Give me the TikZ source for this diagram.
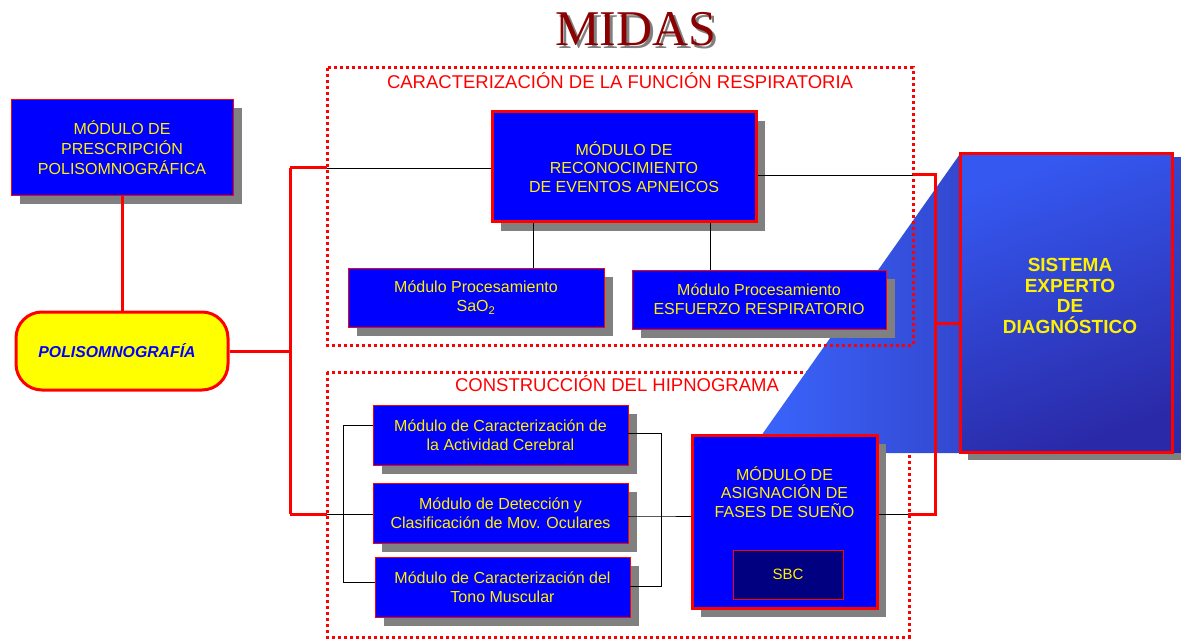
\documentclass[tikz,border=0pt]{standalone}
\usepackage{fontspec}
\setmainfont{Liberation Sans}
\newfontfamily\titlefont{Liberation Serif}
\usetikzlibrary{shadows}
\definecolor{boxblue}{HTML}{0000FF}
\definecolor{shgray}{HTML}{808080}
\definecolor{titlered}{HTML}{8B0000}
\definecolor{panelA}{HTML}{3A66FF}
\definecolor{panelB}{HTML}{3348D0}
\definecolor{expA}{HTML}{3558F0}
\definecolor{expB}{HTML}{2A2AA8}
\definecolor{sbcblue}{HTML}{000080}
\definecolor{polyyellow}{HTML}{FFFF00}
\tikzset{
  shadowed/.style={drop shadow={shadow xshift=9pt, shadow yshift=-9pt, fill=shgray, opacity=1}},
  modbox/.style={draw=red, line width=0.8pt, fill=boxblue, text=yellow, align=center,
    font=\fontsize{16}{18.8}\selectfont, inner sep=0pt, shadowed},
  bigbox/.style={modbox, line width=3pt},
  redline/.style={draw=red, line width=3pt},
  blackline/.style={draw=black, line width=0.9pt},
  dotframe/.style={draw=red, line width=3pt, dash pattern=on 3pt off 3pt},
  frametitle/.style={text=red, font=\fontsize{18.5}{20}\selectfont, inner sep=0pt},
}
\begin{document}
\begin{tikzpicture}[x=1pt, y=-1pt]
\useasboundingbox[fill=white] (0,0) rectangle (1181,639);

% heading, its grey shadow set in the same box
\node[font=\titlefont\fontsize{50}{50}\selectfont, inner sep=0pt] (head) at (636,31)
  {\makebox[0pt][l]{\hspace{3pt}\raisebox{-3pt}{\textcolor{shgray}{MIDAS}}}\textcolor{titlered}{MIDAS}};

% lower frame (partly hidden by the blue panel)
\draw[dotframe] (327,372) rectangle (909,637);
\node[frametitle] (hipno) at (617,384) {CONSTRUCCIÓN DEL HIPNOGRAMA};

% blue perspective panel behind the expert system
\shade[left color=panelA, right color=panelB] (749,453) -- (960,154) -- (960,453) -- cycle;

% upper frame
\draw[dotframe] (327,68) rectangle (913,345);
\node[frametitle] (resp) at (620,81) {CARACTERIZACIÓN DE LA FUNCIÓN RESPIRATORIA};

% junction points
\coordinate (jTop) at (290,168);
\coordinate (jMid) at (290,351);
\coordinate (jBot) at (290,514);
\coordinate (e1) at (327,168);
\coordinate (e2) at (327,514);
\coordinate (k1) at (913,175);
\coordinate (jR1) at (935,175);
\coordinate (jRm) at (935,323);
\coordinate (jR2) at (935,514);
\coordinate (k2) at (908,514);
\coordinate (r1) at (533,0);
\coordinate (r2) at (710,0);
\coordinate (bA) at (343,425);
\coordinate (bC) at (343,582);
\coordinate (cA) at (661,433);
\coordinate (cM) at (661,516);
\coordinate (cC) at (661,586);

% modules
\node[modbox, minimum width=222pt, minimum height=96pt] (presc) at (122,147)
  {\raisebox{-3pt}[\height][\depth]{\begin{tabular}{@{}c@{}}MÓDULO DE\\[0.6pt]PRESCRIPCIÓN\\[0.6pt]POLISOMNOGRÁFICA\end{tabular}}};
\node[draw=red, line width=3pt, fill=polyyellow, rounded corners=26pt,
  minimum width=212pt, minimum height=78pt, inner sep=0pt,
  text=boxblue, font=\fontsize{15.8}{18}\selectfont\bfseries\itshape] (poli) at (122,351)
  {\hspace*{-10pt}POLISOMNOGRAFÍA};

\node[bigbox, minimum width=264pt, minimum height=110pt] (recon) at (624,167)
  {MÓDULO DE\\RECONOCIMIENTO\\DE EVENTOS APNEICOS};
\node[modbox, minimum width=256pt, minimum height=59pt] (sao) at (476,297.5)
  {Módulo Procesamiento\\SaO\textsubscript{2}};
\node[modbox, minimum width=254pt, minimum height=59pt] (esf) at (759,299.5)
  {Módulo Procesamiento\\ESFUERZO RESPIRATORIO};

\node[modbox, minimum width=255pt, minimum height=60pt] (act) at (500.5,435)
  {Módulo de Caracterización de\\la Actividad Cerebral};
\node[modbox, minimum width=255pt, minimum height=60pt] (mov) at (500.5,513)
  {Módulo de Detección y\\Clasificación de Mov. Oculares};
\node[modbox, minimum width=255pt, minimum height=60pt] (tono) at (502.5,587)
  {Módulo de Caracterización del\\Tono Muscular};

\node[bigbox, minimum width=185pt, minimum height=173pt] (asig) at (784.5,521.5) {};
\node[text=yellow, align=center, font=\fontsize{16}{18.8}\selectfont, inner sep=0pt] (asigtxt) at (784.5,492)
  {MÓDULO DE\\ASIGNACIÓN DE\\FASES DE SUEÑO};
\node[draw=red, line width=0.8pt, fill=sbcblue, text=yellow, font=\fontsize{15}{18}\selectfont,
  minimum width=110pt, minimum height=49pt, inner sep=0pt] (sbc) at (788,574.5) {SBC};

% expert system block
\fill[shgray] (968,162) rectangle (1181,460);
\shade[top color=panelB, bottom color=expB] (1172,158) rectangle (1181,452);
\node[draw=red, line width=3pt, minimum width=212pt, minimum height=298pt, inner sep=0pt,
  shading=axis, top color=expA, bottom color=expB, shading angle=20,
  path picture={
    \foreach \i in {640,646,...,1180}
      \draw[white, opacity=0.13, line width=0.6pt] (\i,470) -- ++(330,-330);
  }] (sist) at (1066,303) {};
\node[text=yellow, align=center, font=\fontsize{19}{20.7}\selectfont\bfseries, inner sep=0pt] (sisttxt) at (1070,296)
  {SISTEMA\\EXPERTO\\DE\\DIAGNÓSTICO};

% red trunk connections
\draw[redline] (presc.south) -- (poli.north);
\draw[redline] (poli.east) -- (jMid);
\draw[redline] (jTop) -- (jBot);
\draw[redline] (jTop) -- (e1);
\draw[redline] (jBot) -- (e2);
\draw[redline] (k1) -- (jR1) -- (jR2) -- (k2);
\draw[redline] (jRm) -- (jRm -| sist.west);

% thin black connections
\draw[blackline] (e1) -- (e1 -| recon.west);
\draw[blackline] (k1 -| recon.east) -- (k1);
\draw[blackline] (recon.south -| r1) -- (sao.north -| r1);
\draw[blackline] (recon.south -| r2) -- (esf.north -| r2);
\draw[blackline] (bA -| act.west) -- (bA) -- (bC) -- (bC -| tono.west);
\draw[blackline] (e2) -- (e2 -| mov.west);
\draw[blackline] (cA -| act.east) -- (cA) -- (cC) -- (cC -| tono.east);
\draw[blackline] (cM -| mov.east) -- (cM) -- (cM -| asig.west);
\draw[blackline] (k2 -| asig.east) -- (k2);
\end{tikzpicture}
\end{document}
